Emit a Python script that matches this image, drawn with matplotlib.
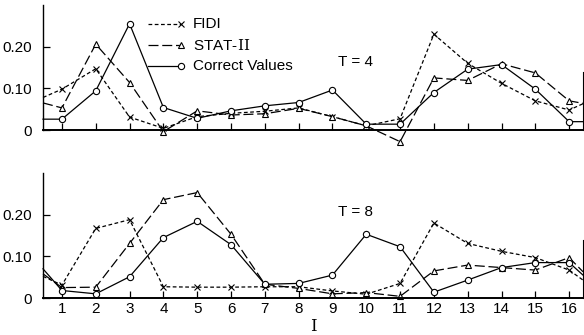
import numpy as np
import matplotlib
matplotlib.use("Agg")
import matplotlib.pyplot as plt

plt.rcParams['font.family'] = ['Liberation Sans', 'DejaVu Sans']
plt.rcParams['mathtext.fontset'] = 'dejavuserif'

# grid point index
I = list(range(1, 17))
tick_labels = [str(i) for i in I]

# T = 4  (value at left edge, 16 points, value at right edge)
fidi_t4 = [0.078, 0.098, 0.147, 0.031, 0.004, 0.032, 0.040, 0.045, 0.053, 0.032,
           0.010, 0.027, 0.230, 0.160, 0.112, 0.070, 0.048, 0.063]
stat_t4 = [0.065, 0.053, 0.206, 0.114, -0.004, 0.046, 0.036, 0.039, 0.052, 0.032,
           0.010, -0.028, 0.125, 0.119, 0.159, 0.137, 0.070, 0.064]
corr_t4 = [0.026, 0.026, 0.094, 0.255, 0.054, 0.028, 0.046, 0.058, 0.066, 0.096,
           0.014, 0.014, 0.090, 0.146, 0.157, 0.098, 0.020, 0.020]

# T = 8
fidi_t8 = [0.052, 0.031, 0.167, 0.188, 0.027, 0.026, 0.026, 0.027, 0.027, 0.017,
           0.009, 0.035, 0.180, 0.131, 0.112, 0.097, 0.067, 0.043]
stat_t8 = [0.058, 0.025, 0.026, 0.131, 0.236, 0.253, 0.153, 0.033, 0.023, 0.010,
           0.013, 0.004, 0.065, 0.079, 0.073, 0.067, 0.097, 0.063]
corr_t8 = [0.070, 0.018, 0.010, 0.051, 0.145, 0.184, 0.128, 0.033, 0.035, 0.055,
           0.153, 0.123, 0.014, 0.043, 0.073, 0.085, 0.085, 0.055]

series_names = ['FIDI', r'STAT-$\mathrm{II}$', 'Correct Values']

W, H = 584, 335
fig = plt.figure(figsize=(W / 100, H / 100), dpi=100)
ax1 = fig.add_axes([43 / W, (H - 130) / H, 540 / W, 125 / H])
ax2 = fig.add_axes([43 / W, (H - 298) / H, 540 / W, 125 / H])

styles = [
    dict(ls=(0, (3, 2)), marker='x', ms=4, mew=0.8),
    dict(ls=(0, (8, 3)), marker='^', ms=4.5, mew=0.8, mfc='white'),
    dict(ls='-', marker='o', ms=4.5, mew=0.8, mfc='white'),
]

xlo, xhi = 0.44, 16.41

def draw(ax, data, label, lx, ly):
    ax.set_xlim(xlo, xhi)
    ax.set_ylim(0, 0.30)
    xs = [xlo] + I + [xhi]
    for vals, st in zip(data, styles):
        ax.plot(xs, vals, color='black', lw=0.9, markevery=list(range(1, 17)),
                clip_on=False, **st)
    ax.spines['top'].set_visible(False)
    ax.spines['right'].set_bounds(0, 0.14)
    ax.spines['left'].set_linewidth(1.0)
    ax.spines['bottom'].set_linewidth(1.4)
    ax.set_xticks(I)
    ax.set_yticks([0, 0.10, 0.20])
    ax.set_yticklabels(['0', '0.10', '0.20'])
    ax.tick_params(direction='in', length=5, width=0.9, labelsize=11, pad=3)
    ax.tick_params(axis='y', pad=8)
    ax.text(lx, ly, label, fontsize=11, ha='center', va='center')

draw(ax1, [fidi_t4, stat_t4, corr_t4], 'T = 4', 9.67, 0.164)
draw(ax2, [fidi_t8, stat_t8, corr_t8], 'T = 8', 9.67, 0.206)
ax1.set_xticklabels([])
ax2.set_xticklabels(tick_labels)
ax2.set_xlabel('I', family='DejaVu Serif', fontsize=12, labelpad=1)

# legend drawn by hand in the upper panel
for k, (name, st) in enumerate(zip(series_names, styles)):
    yy = 0.85 - k * 0.17
    ax1.plot([0.195, 0.255], [yy, yy], color='black', lw=0.9, transform=ax1.transAxes,
             markevery=[1], **st)
    ax1.text(0.278, yy, name, transform=ax1.transAxes, fontsize=11, va='center')

fig.savefig('out.png', dpi=100)
